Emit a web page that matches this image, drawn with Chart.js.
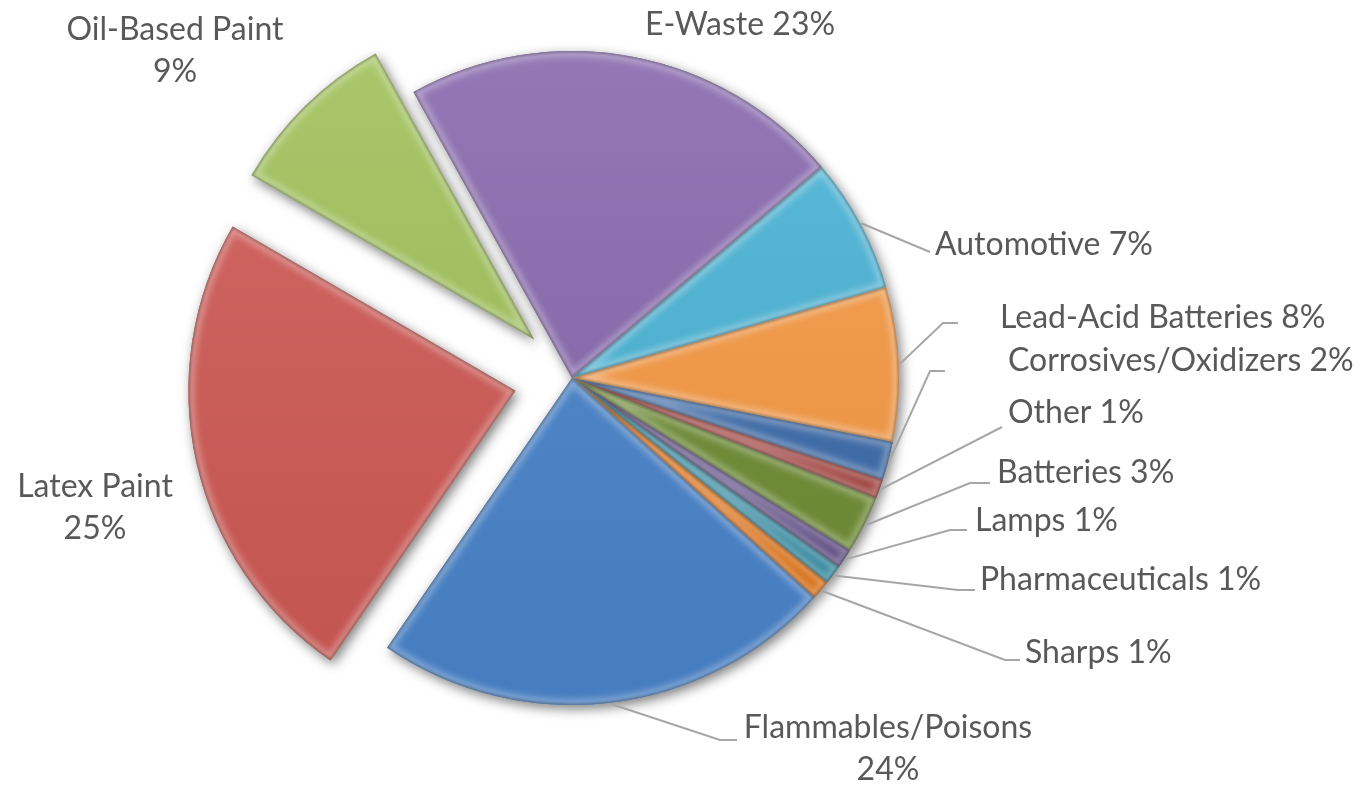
<!DOCTYPE html>
<html>
<head>
<meta charset="utf-8">
<title>Household Hazardous Waste by Type</title>
<script src="https://cdn.jsdelivr.net/npm/chart.js@4.4.1/dist/chart.umd.min.js"></script>
<style>
  html, body { margin: 0; padding: 0; background: #ffffff; }
  #wrap { width: 1366px; height: 786px; position: relative; }
</style>
</head>
<body>
<div id="wrap"><canvas id="c"></canvas></div>
<script>
// Waste categories, listed clockwise starting with E-Waste
const categories = [
  'E-Waste', 'Automotive', 'Lead-Acid Batteries', 'Corrosives/Oxidizers', 'Other',
  'Batteries', 'Lamps', 'Pharmaceuticals', 'Sharps', 'Flammables/Poisons',
  'Latex Paint', 'Oil-Based Paint'
];
// Share of collected waste, percent
const shares = [23, 7, 8, 2, 1, 3, 1, 1, 1, 24, 25, 9];

// Slice fills
const sliceColors = [
  '#8869AE', '#4BB4D6', '#F79A45', '#3D6CAB', '#A23C39', '#6F8E35',
  '#5E4A85', '#2F8BA3', '#E2700F', '#4A85CC', '#D05A55', '#A2C35C'
];
// How far each slice is pulled out of the pie, px
const explodePx = [0, 0, 0, 0, 0, 0, 0, 0, 0, 0, 58, 54];

// Label placement relative to the pie centre; leader = elbow/end points
const labelLayout = [
  { pos: [168, -353], align: 'center', wrap: false, leader: null },
  { pos: [363, -133], align: 'left', wrap: false, leader: [[358, -126]] },
  { pos: [428, -60],  align: 'left', wrap: false, leader: [[371, -55], [386, -55]] },
  { pos: [436, -17],  align: 'left', wrap: false, leader: [[358, -7], [373, -7]] },
  { pos: [436, 35],   align: 'left', wrap: false, leader: [[430, 49]] },
  { pos: [425, 95],   align: 'left', wrap: false, leader: [[398, 105], [418, 105]] },
  { pos: [403, 143],  align: 'left', wrap: false, leader: [[378, 152], [395, 152]] },
  { pos: [408, 202],  align: 'left', wrap: false, leader: [[386, 212], [403, 212]] },
  { pos: [453, 275],  align: 'left', wrap: false, leader: [[433, 282], [448, 282]] },
  { pos: [316, 350],  align: 'center', wrap: true, leader: [[148, 362], [165, 362]] },
  { pos: [-477, 109], align: 'center', wrap: true, leader: null },
  { pos: [-397, -348], align: 'center', wrap: true, leader: null }
];

const LABEL_FONT = '32px Lato, "Open Sans", sans-serif';
const LABEL_COLOR = '#595959';
const LEADER_COLOR = '#A6A6A6';
const LINE_GAP = 42;

function slicePath(ctx, el) {
  ctx.beginPath();
  ctx.moveTo(el.x, el.y);
  ctx.arc(el.x, el.y, el.outerRadius, el.startAngle, el.endAngle);
  ctx.closePath();
}

// Pull selected slices outward along their bisector
const explodePlugin = {
  id: 'explode',
  afterDatasetsUpdate(chart) {
    chart.getDatasetMeta(0).data.forEach((el, i) => {
      const d = explodePx[i];
      if (!d) return;
      const mid = (el.startAngle + el.endAngle) / 2;
      el.x += Math.cos(mid) * d;
      el.y += Math.sin(mid) * d;
    });
  }
};

// Soft drop shadow under every slice
const shadowPlugin = {
  id: 'sliceShadow',
  beforeDatasetsDraw(chart) {
    const ctx = chart.ctx;
    chart.getDatasetMeta(0).data.forEach((el, i) => {
      ctx.save();
      ctx.shadowColor = 'rgba(0,0,0,0.5)';
      ctx.shadowBlur = 12;
      ctx.shadowOffsetX = 3;
      ctx.shadowOffsetY = 4;
      ctx.fillStyle = sliceColors[i];
      slicePath(ctx, el);
      ctx.fill();
      ctx.restore();
    });
  }
};

// Light sheen and bevelled edges on each slice
const bevelPlugin = {
  id: 'sliceBevel',
  afterDatasetsDraw(chart) {
    const ctx = chart.ctx;
    chart.getDatasetMeta(0).data.forEach((el) => {
      const r = el.outerRadius;
      ctx.save();
      slicePath(ctx, el);
      ctx.clip();
      const g = ctx.createLinearGradient(0, el.y - r, 0, el.y + r);
      g.addColorStop(0, 'rgba(255,255,255,0.10)');
      g.addColorStop(1, 'rgba(0,0,0,0.06)');
      ctx.fillStyle = g;
      ctx.fillRect(el.x - r - 5, el.y - r - 5, 2 * r + 10, 2 * r + 10);
      ctx.filter = 'blur(3px)';
      ctx.lineWidth = 12;
      ctx.strokeStyle = 'rgba(255,255,255,0.30)';
      slicePath(ctx, el);
      ctx.stroke();
      ctx.filter = 'blur(1px)';
      ctx.lineWidth = 3;
      ctx.strokeStyle = 'rgba(0,0,0,0.30)';
      slicePath(ctx, el);
      ctx.stroke();
      ctx.restore();
    });
  }
};

// Category labels with leader lines
const labelPlugin = {
  id: 'sliceLabels',
  afterDraw(chart) {
    const ctx = chart.ctx;
    const meta = chart.getDatasetMeta(0);
    const cx = meta.data[0].x;
    const cy = meta.data[0].y;
    ctx.save();
    meta.data.forEach((el, i) => {
      const spec = labelLayout[i];
      if (spec.leader) {
        const mid = (el.startAngle + el.endAngle) / 2;
        const rr = el.outerRadius + 1;
        ctx.beginPath();
        ctx.moveTo(el.x + Math.cos(mid) * rr, el.y + Math.sin(mid) * rr);
        spec.leader.forEach(p => ctx.lineTo(cx + p[0], cy + p[1]));
        ctx.strokeStyle = LEADER_COLOR;
        ctx.lineWidth = 2;
        ctx.stroke();
      }
      const pct = shares[i] + '%';
      const lines = spec.wrap ? [categories[i], pct] : [categories[i] + ' ' + pct];
      ctx.font = LABEL_FONT;
      ctx.fillStyle = LABEL_COLOR;
      ctx.textAlign = spec.align;
      ctx.textBaseline = 'middle';
      lines.forEach((t, k) => {
        ctx.fillText(t, cx + spec.pos[0], cy + spec.pos[1] + k * LINE_GAP);
      });
    });
    ctx.restore();
  }
};

new Chart(document.getElementById('c'), {
  type: 'pie',
  data: {
    labels: categories,
    datasets: [{
      data: shares,
      backgroundColor: sliceColors,
      borderWidth: 0,
      radius: 327
    }]
  },
  options: {
    responsive: true,
    maintainAspectRatio: false,
    animation: false,
    events: [],
    rotation: -29,
    layout: { padding: { left: 0, right: 222, top: 0, bottom: 30 } },
    plugins: {
      legend: { display: false },
      tooltip: { enabled: false }
    }
  },
  plugins: [explodePlugin, shadowPlugin, bevelPlugin, labelPlugin]
});
</script>
</body>
</html>
